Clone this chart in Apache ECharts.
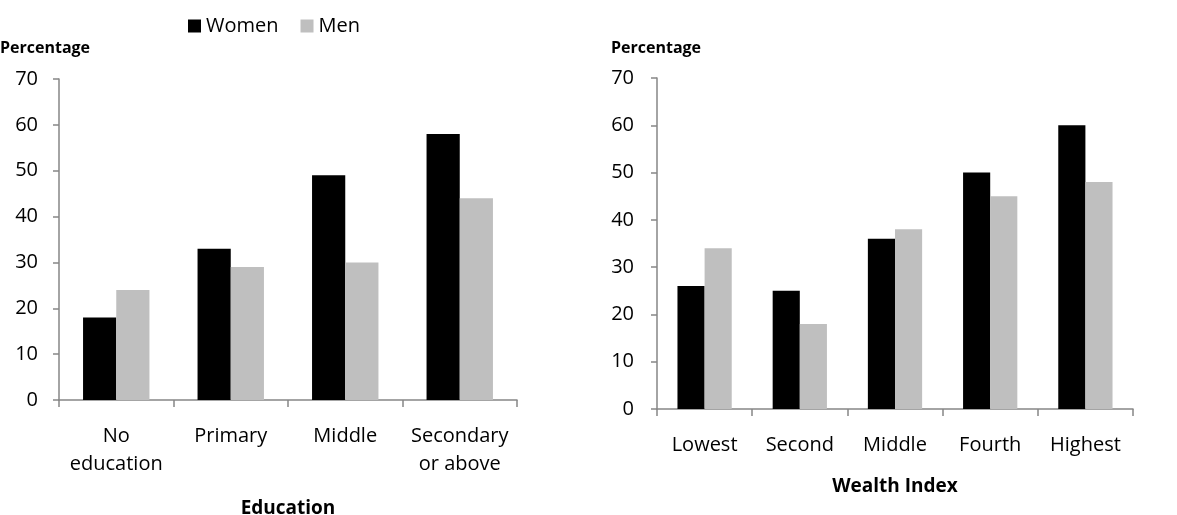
<!DOCTYPE html>
<html>
<head>
<meta charset="utf-8">
<script src="https://cdn.jsdelivr.net/npm/echarts@6/dist/echarts.min.js"></script>
<style>
  html, body { margin: 0; padding: 0; background: #fff; }
  #chart { width: 1177px; height: 515px; }
</style>
</head>
<body>
<div id="chart"></div>
<script>
// --- data ---
const eduCategories = ['No\neducation', 'Primary', 'Middle', 'Secondary\nor above'];
const eduWomen = [18, 33, 49, 58];
const eduMen   = [24, 29, 30, 44];

const wealthCategories = ['Lowest', 'Second', 'Middle', 'Fourth', 'Highest'];
const wealthWomen = [26, 25, 36, 50, 60];
const wealthMen   = [34, 18, 38, 45, 48];

const yTicks = { min: 0, max: 70, interval: 10 };

const FONT = '"Open Sans", "Noto Sans", sans-serif';
const AXIS_GRAY = '#868686';

const chart = echarts.init(document.getElementById('chart'));

function yAxisFor(gridIndex, margin) {
  return {
    type: 'value', gridIndex,
    min: yTicks.min, max: yTicks.max, interval: yTicks.interval,
    axisLine: { show: true, lineStyle: { color: AXIS_GRAY, width: 1.5 } },
    axisTick: { show: true, length: 6, lineStyle: { color: AXIS_GRAY, width: 1.5 } },
    axisLabel: { color: '#000', fontSize: 20, fontFamily: FONT, margin },
    splitLine: { show: false }
  };
}

function xAxisFor(gridIndex, data, name, nameGap, margin) {
  return {
    type: 'category', gridIndex, data,
    name, nameLocation: 'middle', nameGap,
    nameTextStyle: { color: '#000', fontSize: 19, fontWeight: 'bold', fontFamily: FONT, verticalAlign: 'top' },
    axisLine: { lineStyle: { color: AXIS_GRAY, width: 1.5 } },
    axisTick: { show: true, length: 7, alignWithLabel: false, lineStyle: { color: AXIS_GRAY, width: 1.5 } },
    axisLabel: { color: '#000', fontSize: 20, fontFamily: FONT, margin, lineHeight: 28, interval: 0 }
  };
}

chart.setOption({
  animation: false,
  legend: {
    data: ['Women', 'Men'],
    left: 183, top: 11,
    itemWidth: 13, itemHeight: 13, itemGap: 22,
    icon: 'rect',
    textStyle: { color: '#000', fontSize: 20, fontFamily: FONT }
  },
  grid: [
    { left: 59, top: 79, width: 458, height: 321, outerBoundsMode: 'none' },
    { left: 657, top: 78, width: 476, height: 331, outerBoundsMode: 'none' }
  ],
  xAxis: [
    xAxisFor(0, eduCategories, 'Education', 99, 22),
    xAxisFor(1, wealthCategories, 'Wealth Index', 68, 22)
  ],
  yAxis: [yAxisFor(0, 21), yAxisFor(1, 23)],
  graphic: [
    { type: 'text', left: 0, top: 40, style: { text: 'Percentage', fill: '#000', font: 'bold 16px ' + FONT } },
    { type: 'text', left: 611, top: 40, style: { text: 'Percentage', fill: '#000', font: 'bold 16px ' + FONT } }
  ],
  series: [
    { name: 'Women', type: 'bar', xAxisIndex: 0, yAxisIndex: 0, data: eduWomen,
      itemStyle: { color: '#000000' }, barGap: '0%', barCategoryGap: '42%' },
    { name: 'Men', type: 'bar', xAxisIndex: 0, yAxisIndex: 0, data: eduMen,
      itemStyle: { color: '#bfbfbf' }, barGap: '0%', barCategoryGap: '42%' },
    { name: 'Women', type: 'bar', xAxisIndex: 1, yAxisIndex: 1, data: wealthWomen,
      itemStyle: { color: '#000000' }, barGap: '0%', barCategoryGap: '43%' },
    { name: 'Men', type: 'bar', xAxisIndex: 1, yAxisIndex: 1, data: wealthMen,
      itemStyle: { color: '#bfbfbf' }, barGap: '0%', barCategoryGap: '43%' }
  ]
});
</script>
</body>
</html>
